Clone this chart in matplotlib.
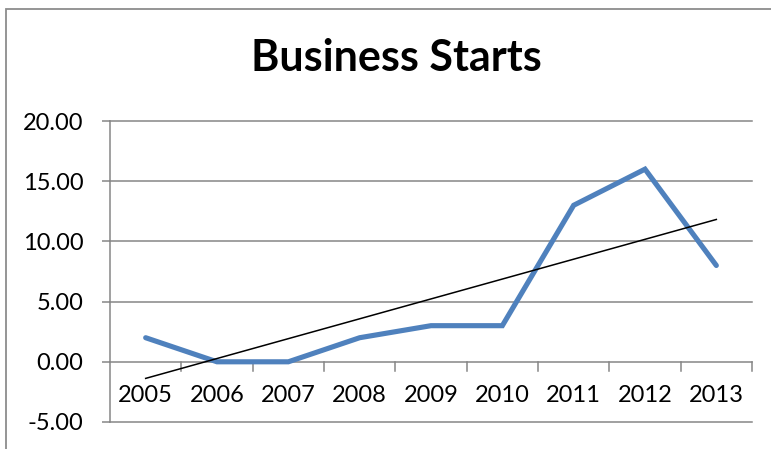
import matplotlib
matplotlib.use("Agg")
import matplotlib.pyplot as plt
from matplotlib.patches import Rectangle
import numpy as np

years = ["2005", "2006", "2007", "2008", "2009", "2010", "2011", "2012", "2013"]
starts = [2, 0, 0, 2, 3, 3, 13, 16, 8]
yticks = [-5, 0, 5, 10, 15, 20]
title = "Business Starts"

W, H = 771, 449
fig = plt.figure(figsize=(W / 100, H / 100), dpi=100)
plt.rcParams['font.family'] = ['Lato', 'DejaVu Sans']

# outer chart border
fig.patches.append(Rectangle((5.5 / W, -0.1), 1.2, 1 - 9.5 / H + 0.1,
                             transform=fig.transFigure, fill=False,
                             edgecolor='#8c8c8c', linewidth=1.3))

left, right, top, bottom = 110, 752, 121, 422
ax = fig.add_axes([left / W, 1 - bottom / H, (right - left) / W, (bottom - top) / H])

x = np.arange(len(years))
ax.plot(x, starts, color='#4F81BD', linewidth=3.7, solid_capstyle='round',
        solid_joinstyle='miter', zorder=3)

# linear trendline
coef = np.polyfit(x, starts, 1)
ax.plot(x[[0, -1]], np.polyval(coef, x[[0, -1]]), color='black', linewidth=1.1, zorder=4)

ax.set_xlim(-0.5, len(years) - 0.5)
ax.set_ylim(-5, 20)
ax.set_yticks(yticks)
ax.set_yticklabels([f"{v:.2f}" for v in yticks])
for v in yticks:
    ax.axhline(v, color='#868686', linewidth=1.1, zorder=1, clip_on=False)

for s in ['top', 'right', 'bottom']:
    ax.spines[s].set_visible(False)
ax.spines['left'].set_color('#868686')
ax.spines['left'].set_linewidth(1.1)

ax.tick_params(axis='y', length=6, width=1.1, color='#868686', labelsize=17, pad=13)

# category axis at y=0
ax.set_xticks([])
for xb in np.arange(1, len(years) + 1) - 0.5:
    ax.plot([xb, xb], [0, -0.8], color='#868686', linewidth=1.1, clip_on=False, zorder=1)
for i, yr in enumerate(years):
    ax.text(i, -1.95, yr, ha='center', va='top', fontsize=17)

fig.text(396 / W, 1 - 58 / H, title, ha='center', va='center', fontsize=31,
         fontweight='bold')

fig.savefig("out.png", dpi=100)
